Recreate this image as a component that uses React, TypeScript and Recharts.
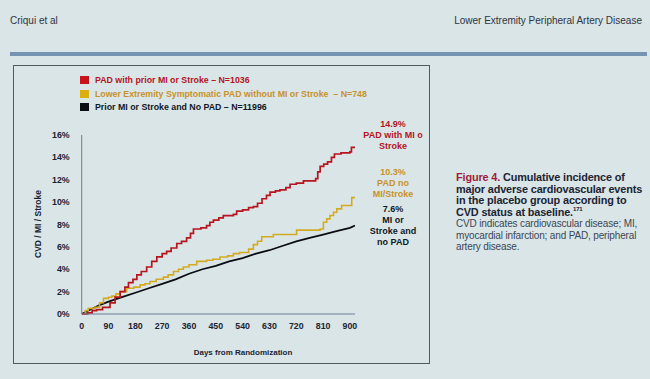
import { Line, LineChart, XAxis, YAxis } from "recharts";

// [day, cumulative %]
const padWithMiStroke: [number, number][] = [
    [0, 0], [20, 0.1], [35, 0.3], [50, 0.4], [70, 0.6], [95, 1.0], [112, 1.5], [129, 2.0],
    [145, 2.4], [157, 2.8], [172, 3.1], [185, 3.5], [200, 3.8], [218, 4.2], [235, 4.7],
    [252, 5.1], [270, 5.4], [285, 5.6], [300, 5.9], [319, 6.3], [335, 6.5], [352, 6.8],
    [365, 7.2], [375, 7.6], [400, 7.7], [419, 7.9], [430, 8.2], [442, 8.4], [460, 8.6],
    [475, 8.8], [509, 8.9], [520, 9.2], [540, 9.3], [560, 9.5], [576, 9.6], [590, 9.9],
    [605, 10.3], [620, 10.6], [632, 10.9], [650, 11.0], [665, 11.1], [685, 11.3], [699, 11.6],
    [720, 11.7], [744, 11.9], [765, 11.9], [785, 12.1], [792, 12.7], [800, 13.2], [812, 13.4],
    [825, 13.6], [838, 14.0], [848, 14.3], [870, 14.4], [900, 14.5], [905, 14.9], [917, 14.9],
];

const padWithoutMiStroke: [number, number][] = [
    [0, 0], [12, 0.3], [22, 0.5], [45, 0.6], [60, 1.0], [73, 1.4], [90, 1.5], [101, 1.6],
    [115, 1.8], [129, 2.0], [151, 2.3], [175, 2.4], [196, 2.6], [212, 2.7], [229, 2.9],
    [250, 3.1], [274, 3.3], [290, 3.5], [308, 3.8], [325, 4.0], [341, 4.2], [360, 4.4],
    [386, 4.7], [419, 4.8], [440, 4.9], [464, 5.1], [490, 5.2], [509, 5.4], [530, 5.5],
    [560, 5.8], [576, 6.2], [590, 6.5], [604, 6.9], [643, 7.1], [699, 7.1], [721, 7.5],
    [800, 7.6], [811, 8.2], [822, 8.5], [833, 8.8], [845, 9.1], [856, 9.4], [872, 9.7],
    [904, 9.7], [906, 10.4], [917, 10.4],
];

const priorMiNoPad: [number, number][] = [
    [0, 0], [30, 0.4], [60, 0.8], [90, 1.1], [135, 1.5], [180, 1.9], [225, 2.3],
    [270, 2.7], [315, 3.1], [360, 3.6], [405, 4.0], [450, 4.3], [495, 4.7], [540, 5.0],
    [585, 5.4], [630, 5.7], [675, 6.1], [720, 6.5], [765, 6.8], [810, 7.1], [855, 7.4],
    [900, 7.7], [917, 7.9],
];

const dayTicks = [0, 90, 180, 270, 360, 450, 540, 630, 720, 810, 900];
const pctTicks = [0, 2, 4, 6, 8, 10, 12, 14, 16];

const legendItems = [
    { label: "PAD with prior MI or Stroke – N=1036", color: "#c8141e", text: "#b5141e" },
    { label: "Lower Extremity Symptomatic PAD without MI or Stroke  – N=748", color: "#dcae12", text: "#c8922a" },
    { label: "Prior MI or Stroke and No PAD – N=11996", color: "#0c0c14", text: "#101826" },
];

const endLabels = [
    { lines: ["14.9%", "PAD with MI o", "Stroke"], color: "#b5141e", top: 119 },
    { lines: ["10.3%", "PAD no", "MI/Stroke"], color: "#c8922a", top: 167 },
    { lines: ["7.6%", "MI or", "Stroke and", "no PAD"], color: "#101826", top: 204 },
];

const toRows = (pts: [number, number][]) => pts.map(([day, pct]) => ({ day, pct }));

const FONT = "'Liberation Sans', Arial, sans-serif";
const tickStyle = { fontSize: 8.8, fontWeight: 700, fill: "#1c2433", fontFamily: FONT };

export default function App() {
    return (
        <div
            style={{
                position: "absolute",
                left: 0,
                top: 0,
                width: 650,
                height: 379,
                background: "#d9e5e7",
                fontFamily: FONT,
                overflow: "hidden",
            }}
        >
            <div style={{ position: "absolute", left: 10, top: 15, fontSize: 10, color: "#2e3440" }}>
                Criqui et al
            </div>
            <div style={{ position: "absolute", right: 8, top: 15, fontSize: 10, color: "#2e3440" }}>
                Lower Extremity Peripheral Artery Disease
            </div>
            <div style={{ position: "absolute", left: 10, top: 52, width: 637, height: 4, background: "#7593b2" }} />

            <div
                style={{
                    position: "absolute",
                    left: 13,
                    top: 65,
                    width: 417,
                    height: 299,
                    border: "1.5px solid #4e5c5e",
                    boxSizing: "border-box",
                }}
            />

            {legendItems.map((item, i) => (
                <div
                    key={item.label}
                    style={{
                        position: "absolute",
                        left: 80,
                        top: 75 + i * 13.5,
                        display: "flex",
                        alignItems: "center",
                        fontSize: 8.8,
                        fontWeight: 700,
                        color: item.text,
                        whiteSpace: "pre",
                    }}
                >
                    <span style={{ width: 9, height: 8, background: item.color, marginRight: 6 }} />
                    {item.label}
                </div>
            ))}

            <div style={{ position: "absolute", left: 13, top: 66 }}>
                <LineChart width={418} height={298} margin={{ top: 69, right: 76, bottom: 30, left: 38.7 }}>
                    <XAxis
                        type="number"
                        dataKey="day"
                        domain={[0, 917]}
                        ticks={dayTicks}
                        allowDataOverflow
                        height={20}
                        tickLine={false}
                        axisLine={{ stroke: "#6a8199", strokeWidth: 1 }}
                        tick={tickStyle}
                        tickMargin={3}
                    />
                    <YAxis
                        type="number"
                        dataKey="pct"
                        domain={[0, 16]}
                        ticks={pctTicks}
                        width={30}
                        tickLine={false}
                        axisLine={{ stroke: "#6a8199", strokeWidth: 1 }}
                        tick={tickStyle}
                        tickMargin={6}
                        tickFormatter={(v: number) => `${v}%`}
                    />
                    <Line
                        data={toRows(priorMiNoPad)}
                        dataKey="pct"
                        type="linear"
                        stroke="#0c0c14"
                        strokeWidth={1.8}
                        dot={false}
                        isAnimationActive={false}
                    />
                    <Line
                        data={toRows(padWithoutMiStroke)}
                        dataKey="pct"
                        type="stepAfter"
                        stroke="#d4aa22"
                        strokeWidth={1.6}
                        dot={false}
                        isAnimationActive={false}
                    />
                    <Line
                        data={toRows(padWithMiStroke)}
                        dataKey="pct"
                        type="stepAfter"
                        stroke="#b8141e"
                        strokeWidth={1.7}
                        dot={false}
                        isAnimationActive={false}
                    />
                </LineChart>
            </div>

            <div
                style={{
                    position: "absolute",
                    left: 38,
                    top: 224,
                    fontSize: 8.5,
                    fontWeight: 700,
                    color: "#1c2433",
                    whiteSpace: "nowrap",
                    transform: "translate(-50%, -50%) rotate(-90deg)",
                }}
            >
                CVD / MI / Stroke
            </div>
            <div
                style={{
                    position: "absolute",
                    left: 243,
                    top: 352,
                    fontSize: 8,
                    fontWeight: 700,
                    color: "#1c2433",
                    whiteSpace: "nowrap",
                    transform: "translate(-50%, -50%)",
                }}
            >
                Days from Randomization
            </div>

            {endLabels.map((lbl) => (
                <div
                    key={lbl.lines[0]}
                    style={{
                        position: "absolute",
                        left: 393,
                        top: lbl.top,
                        transform: "translateX(-50%)",
                        textAlign: "center",
                        fontSize: 9,
                        lineHeight: "11px",
                        fontWeight: 700,
                        color: lbl.color,
                        whiteSpace: "nowrap",
                    }}
                >
                    {lbl.lines.map((l) => (
                        <div key={l}>{l}</div>
                    ))}
                </div>
            ))}

            <div
                style={{
                    position: "absolute",
                    left: 456,
                    top: 172,
                    width: 194,
                    fontSize: 10.9,
                    lineHeight: "11.5px",
                    letterSpacing: -0.15,
                    color: "#1c2433",
                    whiteSpace: "nowrap",
                }}
            >
                <div style={{ fontWeight: 700 }}>
                    <span style={{ color: "#a01c3c" }}>Figure 4.</span> Cumulative incidence of
                    <br />
                    major adverse cardiovascular events
                    <br />
                    in the placebo group according to
                    <br />
                    CVD status at baseline.<sup style={{ fontSize: 6, lineHeight: 0 }}>171</sup>
                </div>
                <div style={{ color: "#3c4654", fontSize: 10 }}>
                    CVD indicates cardiovascular disease; MI,
                    <br />
                    myocardial infarction; and PAD, peripheral
                    <br />
                    artery disease.
                </div>
            </div>
        </div>
    );
}
